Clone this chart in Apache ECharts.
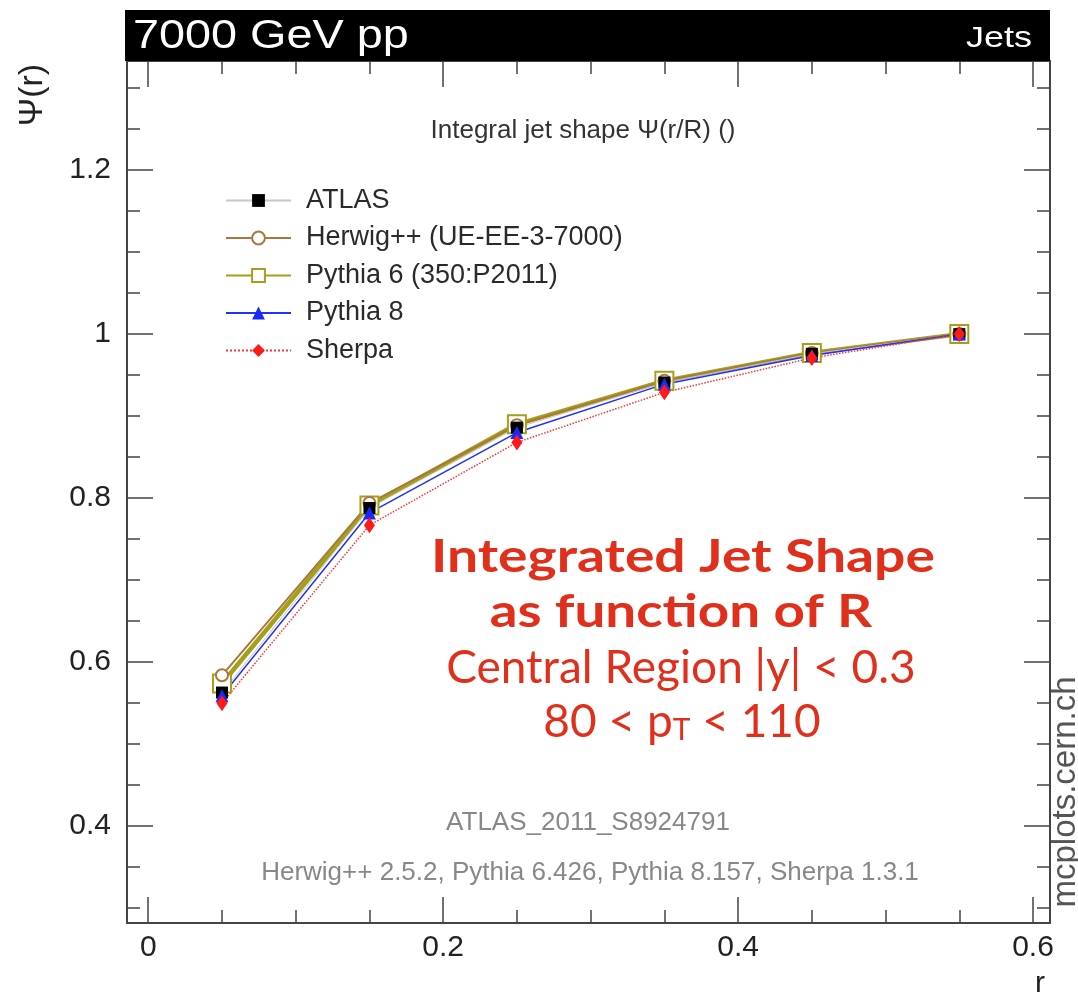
<!DOCTYPE html>
<html>
<head>
<meta charset="utf-8">
<script src="https://cdn.jsdelivr.net/npm/echarts@6/dist/echarts.min.js"></script>
<style>
  html, body { margin: 0; padding: 0; background: #fff; }
  #main { width: 1078px; height: 999px; }
</style>
</head>
<body>
<div id="main"></div>
<script>
// r bin centres and integral jet shape values
var rValues = [0.05, 0.15, 0.25, 0.35, 0.45, 0.55];
var atlas   = [0.563, 0.788, 0.886, 0.941, 0.976, 1.0];
var herwig  = [0.584, 0.794, 0.889, 0.943, 0.977, 1.0];
var pythia6 = [0.574, 0.791, 0.890, 0.943, 0.977, 1.0];
var pythia8 = [0.559, 0.782, 0.880, 0.939, 0.974, 1.0];
var sherpa  = [0.550, 0.767, 0.868, 0.929, 0.971, 1.0];

// tick positions
var xMajorTicks = [0, 0.2, 0.4, 0.6];
var xMinorTicks = [0.05, 0.1, 0.15, 0.25, 0.3, 0.35, 0.45, 0.5, 0.55];
var yMajorTicks = [0.4, 0.6, 0.8, 1.0, 1.2];
var yMinorTicks = [0.3, 0.35, 0.45, 0.5, 0.55, 0.65, 0.7, 0.75, 0.85, 0.9, 0.95, 1.05, 1.1, 1.15, 1.25, 1.3];

var X_MIN = -0.0144, X_MAX = 0.6115;
var Y_MIN = 0.282, Y_MAX = 1.333;

var FONT = '"Liberation Sans", Arial, sans-serif';
var RED = '#e0301c';

function pairs(ys) {
  return rValues.map(function (x, i) { return [x, ys[i]]; });
}

function makeAxis(kind, pos, ticks, len, withLabel) {
  var ax = {
    type: 'value',
    position: pos,
    min: kind === 'x' ? X_MIN : Y_MIN,
    max: kind === 'x' ? X_MAX : Y_MAX,
    axisLine: { show: withLabel !== null, onZero: false, lineStyle: { color: '#444', width: 2 } },
    axisTick: { show: true, inside: true, length: len, customValues: ticks, lineStyle: { color: '#444', width: 1.5 } },
    axisLabel: { show: false },
    splitLine: { show: false }
  };
  if (withLabel) {
    ax.axisLabel = {
      show: true,
      customValues: ticks,
      fontSize: 30,
      fontFamily: FONT,
      color: '#222',
      margin: kind === 'x' ? 10 : 16,
      formatter: function (v) { return String(+v.toFixed(2)); }
    };
  }
  return ax;
}

var chart = echarts.init(document.getElementById('main'));

var option = {
  animation: false,
  backgroundColor: '#fff',
  grid: { left: 127, right: 28, top: 61, bottom: 76, containLabel: false },
  xAxis: [
    makeAxis('x', 'bottom', xMajorTicks, 26, true),
    makeAxis('x', 'bottom', xMinorTicks, 13, null),
    makeAxis('x', 'top', xMajorTicks, 26, false),
    makeAxis('x', 'top', xMinorTicks, 13, null)
  ],
  yAxis: [
    makeAxis('y', 'left', yMajorTicks, 26, true),
    makeAxis('y', 'left', yMinorTicks, 13, null),
    makeAxis('y', 'right', yMajorTicks, 26, false),
    makeAxis('y', 'right', yMinorTicks, 13, null)
  ],
  legend: {
    data: ['ATLAS', 'Herwig++ (UE-EE-3-7000)', 'Pythia 6 (350:P2011)', 'Pythia 8', 'Sherpa'],
    orient: 'vertical',
    left: 225,
    top: 187,
    padding: 0,
    itemWidth: 65,
    itemHeight: 16,
    itemGap: 10.5,
    textStyle: { fontSize: 27, fontFamily: FONT, color: '#2a2a2a', lineHeight: 26, padding: [0, 0, 0, 10] }
  },
  series: [
    {
      name: 'Pythia 6 (350:P2011)', type: 'line', data: pairs(pythia6),
      symbol: 'emptyRect', symbolSize: 18,
      lineStyle: { color: '#a4a01c', width: 4.5 },
      itemStyle: { color: '#a4a01c', borderWidth: 2 }
    },
    {
      name: 'Herwig++ (UE-EE-3-7000)', type: 'line', data: pairs(herwig),
      symbol: 'emptyCircle', symbolSize: 12,
      lineStyle: { color: '#a8783c', width: 2 },
      itemStyle: { color: '#a8783c', borderWidth: 1.5 }
    },
    {
      name: 'ATLAS', type: 'line', data: pairs(atlas),
      symbol: 'rect', symbolSize: 12,
      lineStyle: { color: '#c8c8c8', width: 1 },
      itemStyle: { color: '#000' }
    },
    {
      name: 'Pythia 8', type: 'line', data: pairs(pythia8),
      symbol: 'triangle', symbolSize: 13,
      lineStyle: { color: '#2030ff', width: 1.5 },
      itemStyle: { color: '#1a28ff' }
    },
    {
      name: 'Sherpa', type: 'line', data: pairs(sherpa),
      symbol: 'diamond', symbolSize: [11, 16],
      lineStyle: { color: '#ff3030', width: 1.5, type: 'dotted' },
      itemStyle: { color: '#ff1a1a' }
    }
  ],
  graphic: [
    { type: 'rect', shape: { x: 125, y: 10, width: 925, height: 51 }, style: { fill: '#000' }, z: 10 },
    { type: 'text', x: 133, y: 37, scaleX: 1.17, z: 11, style: { text: '7000 GeV pp', fill: '#fff', font: '40px ' + FONT, verticalAlign: 'middle' } },
    { type: 'text', x: 1032, y: 39, scaleX: 1.2, z: 11, style: { text: 'Jets', fill: '#fff', font: '30px ' + FONT, align: 'right', verticalAlign: 'middle' } },
    { type: 'text', x: 33, y: 95, rotation: Math.PI / 2, style: { text: 'Ψ(r)', fill: '#222', font: '34px ' + FONT, align: 'center', verticalAlign: 'middle' } },
    { type: 'text', x: 1040, y: 984, style: { text: 'r', fill: '#222', font: '30px ' + FONT, align: 'center', verticalAlign: 'middle' } },
    { type: 'text', x: 583, y: 131, style: { text: 'Integral jet shape Ψ(r/R) ()', fill: '#333', font: '26px ' + FONT, align: 'center', verticalAlign: 'middle' } },
    { type: 'text', x: 588, y: 823, style: { text: 'ATLAS_2011_S8924791', fill: '#888', font: '26px ' + FONT, align: 'center', verticalAlign: 'middle' } },
    { type: 'text', x: 590, y: 873, style: { text: 'Herwig++ 2.5.2, Pythia 6.426, Pythia 8.157, Sherpa 1.3.1', fill: '#888', font: '26px ' + FONT, align: 'center', verticalAlign: 'middle' } },
    { type: 'text', x: 1066, y: 792, rotation: Math.PI / 2, style: { text: 'mcplots.cern.ch', fill: '#555', font: '33px ' + FONT, align: 'center', verticalAlign: 'middle' } },
    { type: 'text', x: 683, y: 557, scaleX: 1.2, style: { text: 'Integrated Jet Shape', fill: RED, font: 'bold 46px Lato, sans-serif', align: 'center', verticalAlign: 'middle' } },
    { type: 'text', x: 681, y: 612, scaleX: 1.19, style: { text: 'as function of R', fill: RED, font: 'bold 46px Lato, sans-serif', align: 'center', verticalAlign: 'middle' } },
    { type: 'text', x: 681, y: 668, style: { text: 'Central Region |y| < 0.3', fill: RED, font: '46px Lato, sans-serif', align: 'center', verticalAlign: 'middle' } },
    {
      type: 'text', x: 682, y: 722,
      style: {
        text: '{a|80 < p}{s|T}{a| < 110}',
        align: 'center', verticalAlign: 'middle',
        rich: {
          a: { fill: RED, fontSize: 46, fontFamily: 'Lato, sans-serif' },
          s: { fill: RED, fontSize: 30, fontFamily: 'Lato, sans-serif', padding: [16, 0, 0, 0] }
        }
      }
    }
  ]
};

chart.setOption(option);
</script>
</body>
</html>
